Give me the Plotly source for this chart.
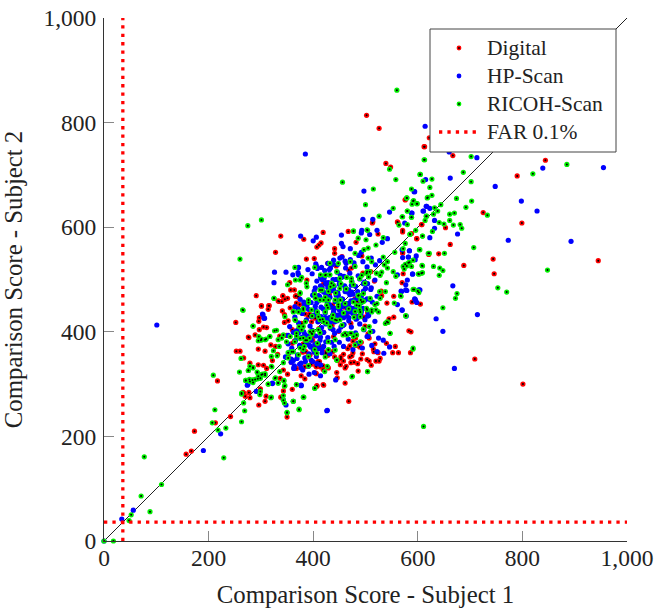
import plotly.graph_objects as go

digital_x = [502,526,539,548,613,576,562,513,608,612,667,844,790,576,725,799,607,653,588,571,598,662,571,640,621,688,744,945,746,572,622,570,589,605,583,587,586,709,801,
291,301,315,314,297,252,342,335,277,289,297,311,319,295,308,253,260,267,279,295,305,311,217,337,267,277,270,279,299,310,308,296,242,213,173,167,157,338,343,360,350,384,407,420,406,413,405,419,351,384,
338,382,419,514,561,467,524,482,415,411,407,441,328,441,387,571,598,571,355,357,367,342,351,333,340,316,301,346,296,305,276,266,540,557,552,563,524,520,526,507,515,485,472,461,468,419,407,405,417,554,554,545,453,458,470,492,481,476,
322,328,336,345,352,360,368,374,381,389,397,404,412,420,429,437,445,453,461,470,478,486,494,503,511,
345,356,364,371,378,386,393,401,409,416,424,433,441,449,458,466,474,482,491,499,507,516,
332,341,349,358,366,374,382,391,399,406,416,424,431,439,447,456,463,472,480,489,497,505,518,528,
364,372,380,388,396,404,412,420,428,436,444,452,460,468,476,484,495,504,517,531,541,
343,352,360,368,377,385,394,402,411,419,428,437,446,455,464,473,483,493,510,530]
digital_y = [814,789,722,715,754,652,609,608,605,754,737,728,698,653,628,608,605,599,588,591,578,567,550,549,548,527,539,536,511,511,771,494,457,453,402,400,360,348,300,
469,449,450,443,427,418,468,458,389,394,404,408,375,367,363,363,363,350,340,337,336,330,306,311,283,284,277,274,291,277,267,260,238,226,210,172,166,275,287,290,237,310,296,298,320,333,335,335,319,333,
583,577,590,610,610,592,587,571,570,566,562,559,552,550,539,552,578,594,494,480,469,469,464,459,458,450,450,462,420,409,390,284,378,372,360,360,360,344,344,344,367,339,341,302,267,299,297,321,334,468,428,425,352,357,373,380,388,360,
345,372,392,418,353,404,330,440,377,352,419,371,343,399,331,362,322,348,331,352,342,325,358,347,336,
433,446,382,467,416,362,434,393,343,479,361,419,352,401,344,368,354,374,348,411,388,362,
357,440,393,342,468,452,366,430,384,333,505,358,471,391,345,448,334,416,463,371,428,396,377,349,
480,405,361,499,338,426,372,492,355,412,526,337,447,518,382,458,512,437,497,469,455,
327,421,378,455,316,434,356,540,406,328,531,451,312,544,432,522,429,545,515,478]

hp_x = [385,614,497,593,615,546,588,495,514,616,610,575,493,660,713,839,955,662,748,594,798,828,611,617,623,589,632,632,623,676,773,893,584,582,595,571,590,667,577,604,579,569,595,598,570,635,714,648,670,
101,325,304,307,223,190,56,34,274,322,291,348,377,364,377,392,414,426,0,
376,406,400,454,492,522,508,532,542,454,457,471,492,584,570,582,597,428,433,451,461,372,405,408,371,348,361,372,326,417,
602,577,568,580,590,561,594,596,570,578,561,535,443,427,377,362,343,275,322,306,303,
407,414,421,429,436,444,451,459,466,474,481,489,496,504,511,518,
402,410,417,425,432,440,447,455,462,470,477,485,492,500,508,
396,404,412,419,427,434,442,450,457,465,472,480,487,495,503,513,
408,415,423,431,438,446,453,461,468,476,484,491,499,506,
355,362,369,376,384,391,398,405,413,420,428,435,
352,359,366,374,381,388,395,402,410,417,424,432,440,
347,355,362,370,377,384,392,399,406,414,
358,365,372,379,387,394,401,409,416,423,431,438,446,453,
367,375,383,391,399,407,415,423,431,439,447,455,463,
382,390,398,406,414,422,430,438,446,454,462,470,478,486,
431,439,447,455,463,471,479,487,495,503,511,519,527,
416,424,433,441,449,457,465,473,481,489,497,505,514,525,
441,450,458,467,476,485,494,503,512,522,534,546,
352,358,363,369,374,380,385,391,396,402,407,
363,371,379,388,397,405,414,423,432,441,450,459,468,477,
412,425,438,449,461,473,486,498,510,522,
434,446,458,470,482,494,506,518,
408,416,424,432,440,448,456,464,472,480,488,496,404,412,420,428,436,444,452,460,468,476,484,492,
365,372,379,386,393,400,407,414,368,375,382,389,396,403,410,417,
420,432,444,456,468,480,492,504,426,438,450,462,474,486,498]
hp_y = [740,793,669,668,691,629,627,615,615,640,631,608,594,744,733,713,714,694,678,668,650,631,631,640,636,627,613,598,580,587,575,573,555,543,538,542,510,488,490,480,479,477,462,456,441,425,433,401,330,
413,494,433,426,205,173,59,42,298,301,286,260,298,335,331,319,316,249,0,
583,581,574,585,589,594,586,571,578,569,563,559,552,555,557,543,545,531,522,541,535,523,530,521,513,514,509,509,514,500,
480,480,478,499,511,509,463,459,442,430,452,359,308,250,297,267,270,299,302,426,434,
497,488,503,494,482,500,490,506,476,496,487,501,478,492,484,499,
478,469,484,472,466,487,475,463,481,471,460,477,468,483,462,
456,449,461,444,455,447,458,442,452,446,459,441,451,445,463,457,
436,429,439,427,434,425,438,430,421,435,426,432,423,437,
410,399,391,405,395,386,403,392,384,399,389,380,
377,369,383,374,365,379,371,361,376,367,381,358,372,
352,361,345,356,340,350,358,343,353,337,348,
428,417,438,423,411,432,419,408,427,415,404,421,409,398,
462,451,443,470,456,447,466,452,439,461,448,436,457,
519,511,526,505,517,509,529,514,504,522,512,532,507,519,
537,529,543,531,538,526,546,534,524,541,528,536,523,
415,407,419,402,412,396,409,398,415,404,392,401,388,397,
380,372,386,366,378,369,391,374,362,384,371,393,
342,331,349,338,327,343,334,346,322,339,330,
444,435,451,429,441,423,436,418,445,431,414,427,439,421,
491,484,499,477,489,471,495,481,468,491,
432,427,438,424,444,431,420,436,
502,494,486,478,470,462,454,446,438,430,492,484,468,476,484,492,500,508,488,480,472,464,456,448,
398,390,382,374,366,378,390,402,408,400,392,384,376,368,360,372,
478,470,462,454,446,438,430,422,500,492,484,476,468,460,452]

ricoh_x = [560,456,546,558,613,604,610,515,588,579,500,592,589,599,618,553,580,526,571,588,617,614,564,580,504,477,
612,702,687,885,820,605,627,702,623,627,619,674,703,579,591,598,644,692,632,638,580,570,588,616,630,661,670,733,661,641,650,668,681,684,628,596,585,609,576,572,707,604,622,651,591,584,576,579,574,609,630,642,648,848,609,602,641,
568,675,672,753,770,648,577,591,611,593,600,
266,325,285,296,300,308,317,326,340,262,259,276,285,293,271,278,285,289,294,299,303,308,209,263,299,320,267,269,212,207,218,233,263,229,77,110,71,88,52,48,0,18,343,362,373,350,382,403,368,345,314,333,344,328,321,
366,388,375,423,445,439,417,404,391,420,429,442,452,461,448,426,423,372,362,381,366,385,381,394,375,385,359,372,397,410,420,436,445,455,471,461,477,490,480,509,503,512,490,490,483,493,487,496,477,493,506,528,527,509,503,522,442,429,445,423,391,474,504,362,547,541,525,
275,301,477,503,486,501,534,520,505,497,480,432,448,471,505,512,534,556,542,536,572,582,588,609,585,603,620,608,607,601,480,508,521,531,553,542,540,558,365,351,375,378,403,414,424,432,387,375,325,265,260,285,301,295,310,317,330,333,343,356,362,346,335,324,320,331,343,352,320,279,276,285,293,295,308,301,271,279,284,263,298,319,343,345,362,373,350,381,403,368,346,314,333,344,327,336,427,504,475,445,422,391,547,591,567,591,602,555,577,543,538,
491,486,496,480,489,502,512,518,528,538,520,507,496,473,464,483,451,464,473,489,502,499,477,451,435,429,405,413,391,397,381,365,413,442,451,426,432,400,410,368,381,365,349,442,429,407,391,375,381,429,457,352,
398,408,418,428,438,448,458,468,478,488,403,413,423,433,443,453,463,473,368,378,388,398,408,373,383,393,403,413]
ricoh_y = [862,686,711,691,729,701,688,673,673,656,643,651,644,645,656,636,631,621,620,619,621,613,604,605,594,592,
729,735,705,720,702,701,692,687,676,661,657,655,650,656,650,645,643,638,637,631,631,620,619,621,625,625,627,623,613,609,606,604,605,598,592,594,586,583,569,559,561,557,550,550,537,533,529,526,520,526,525,522,517,518,513,510,508,
468,473,464,484,476,446,430,367,219,481,478,
441,464,411,391,384,385,391,402,388,349,323,326,332,323,307,309,303,309,310,311,319,317,317,281,286,275,264,249,251,226,212,216,228,159,161,108,86,56,50,39,0,0,269,267,251,245,275,292,299,296,300,302,307,312,333,
499,486,473,508,515,489,480,464,461,461,461,461,461,454,448,451,438,438,438,445,422,419,410,400,387,384,362,356,397,429,419,426,422,413,397,397,391,381,375,400,442,438,429,438,451,457,470,473,457,508,505,508,477,464,515,454,365,365,346,352,335,314,324,362,397,419,438,
603,614,593,595,579,576,580,566,560,557,550,531,531,534,541,534,543,552,534,528,525,532,525,583,587,557,550,527,512,511,525,515,512,514,515,522,494,506,523,490,499,504,523,509,509,509,493,475,464,442,539,411,386,383,386,391,403,385,394,391,439,429,372,364,353,354,341,350,334,334,326,331,322,315,320,318,307,305,308,283,280,274,278,264,267,252,246,275,292,299,297,300,302,306,311,324,334,324,315,346,324,335,397,369,469,481,475,455,431,418,416,
461,469,458,439,442,445,442,452,464,477,442,410,405,397,394,394,502,504,502,502,512,493,490,483,493,477,464,461,456,442,442,423,423,423,423,417,410,401,404,397,388,381,381,385,381,359,353,369,366,366,394,360,
430,438,424,446,432,452,436,444,428,450,472,480,466,486,474,492,482,496,392,404,384,396,378,410,372,388,366,398]

far_level = [36, 36]
far_span = [0, 1000]
identity = [0, 1000]
ticks = [0, 200, 400, 600, 800, 1000]
tick_text = ["0", "200", "400", "600", "800", "1,000"]
names = ["Digital", "HP-Scan", "RICOH-Scan", "FAR 0.1%"]

SERIF = "Liberation Serif"
INK = "#222222"
RED, BLUE, GREEN = "#ff0000", "#0000ff", "#00f000"
MS, DOT = 5.2, 2.0
DASH = "3.3px,5.1px"
L, T, PW, PH = 104, 18, 523, 523


def pair(x, y):
    n = min(len(x), len(y))
    return x[:n], y[:n]


def px(v):
    return (v - L) / PW


def py(v):
    return (T + PH - v) / PH


fig = go.Figure()
fig.add_trace(go.Scatter(x=identity, y=identity, mode="lines", showlegend=False,
                         line=dict(color="#222222", width=1), hoverinfo="skip"))
fig.add_trace(go.Scatter(x=far_level, y=far_span, mode="lines", showlegend=False,
                         line=dict(color=RED, width=3.3, dash=DASH)))
dx, dy = pair(digital_x, digital_y)
hx, hy = pair(hp_x, hp_y)
rx, ry = pair(ricoh_x, ricoh_y)
fig.add_trace(go.Scatter(x=dx, y=dy, mode="markers", name=names[0], cliponaxis=False,
                         marker=dict(color=RED, size=MS)))
fig.add_trace(go.Scatter(x=dx, y=dy, mode="markers", showlegend=False, cliponaxis=False,
                         marker=dict(color="black", size=DOT)))
fig.add_trace(go.Scatter(x=hx, y=hy, mode="markers", name=names[1], cliponaxis=False,
                         marker=dict(color=BLUE, size=MS)))
fig.add_trace(go.Scatter(x=rx, y=ry, mode="markers", name=names[2], cliponaxis=False,
                         marker=dict(color=GREEN, size=MS)))
fig.add_trace(go.Scatter(x=rx, y=ry, mode="markers", showlegend=False, cliponaxis=False,
                         marker=dict(color="black", size=DOT)))
fig.add_trace(go.Scatter(x=far_span, y=far_level, mode="lines", name=names[3],
                         line=dict(color=RED, width=3.3, dash=DASH)))

# Legend box drawn in page terms so the row pitch can match the reference.
rows = [48, 76, 104, 132]
shapes = [dict(type="rect", xref="paper", yref="paper", x0=px(430), x1=px(616), y0=py(152), y1=py(29),
               fillcolor="white", line=dict(color="#444444", width=1), layer="above")]


def dot(cx, cy, d, color):
    return dict(type="circle", xref="paper", yref="paper", layer="above",
                x0=px(cx - d / 2), x1=px(cx + d / 2), y0=py(cy + d / 2), y1=py(cy - d / 2),
                fillcolor=color, line=dict(width=0))


for row, col, centre in zip(rows, (RED, BLUE, GREEN), (True, False, True)):
    shapes.append(dot(459, row, 4.8, col))
    if centre:
        shapes.append(dot(459, row, 1.9, "black"))
shapes.append(dict(type="line", xref="paper", yref="paper", layer="above",
                   x0=px(439), x1=px(479), y0=py(rows[3]), y1=py(rows[3]),
                   line=dict(color=RED, width=3.3, dash=DASH)))
labels = [dict(xref="paper", yref="paper", x=px(484.5), y=py(row), text=name, showarrow=False,
               xanchor="left", yanchor="middle",
               font=dict(family=SERIF, size=21.5, color=INK))
          for row, name in zip(rows, names)]

axis = dict(range=[0, 1000], tickmode="array", tickvals=ticks, ticktext=tick_text,
            ticks="inside", ticklen=10, tickwidth=1, tickcolor="#888888", automargin=False,
            showgrid=False, zeroline=False, showline=True, linecolor="#333333", linewidth=1,
            tickfont=dict(family=SERIF, size=23.5, color=INK))

fig.update_layout(
    width=656, height=610, autosize=False, showlegend=False,
    margin=dict(l=L, r=29, t=T, b=69, pad=0),
    plot_bgcolor="white", paper_bgcolor="white",
    xaxis=dict(axis, ticklabelstandoff=-4,
               title=dict(text="Comparison Score - Subject 1",
                          font=dict(family=SERIF, size=24.8, color=INK))),
    yaxis=dict(axis, ticklabelstandoff=2,
               title=dict(text="Comparison Score - Subject 2",
                          font=dict(family=SERIF, size=24.8, color=INK))),
    shapes=shapes,
    annotations=labels,
)

fig.write_html("out.html", config={"displayModeBar": False},
               post_script="document.body.style.margin='0';document.body.style.overflow='hidden';")
